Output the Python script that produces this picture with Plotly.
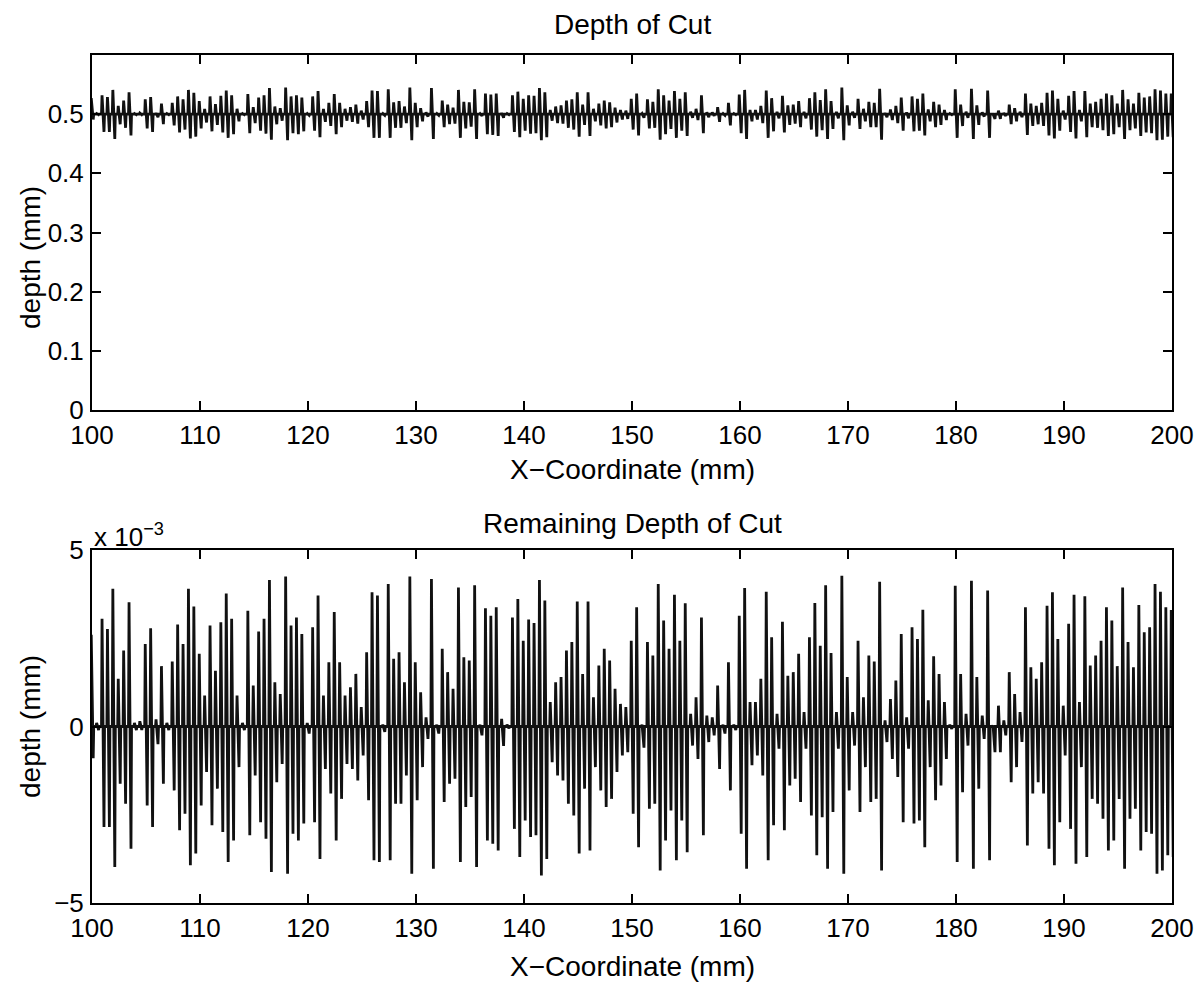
import plotly.graph_objects as go

# ---------------- data ----------------
# spikes occur every 0.5 mm starting at 99.93 mm; trough follows peak
SPIKE_START = 99.93
SPIKE_STEP = 0.5

# Remaining depth of cut, units of 1e-3 mm (peak / trough per spike)
rem_hi = [2.6, 0.1, 3.05, 2.76, 3.9, 1.35, 2.15, 3.52, 0.1, 0.15,
          2.34, 2.78, 0.2, 1.71, 0.1, 1.84, 2.89, 2.34, 3.9, 3.4,
          2.06, 0.88, 2.86, 1.58, 2.95, 3.77, 3.05, 0.88, 0.1, 3.28,
          1.16, 2.69, 3.05, 4.15, 1.25, 0.92, 4.25, 2.86, 3.09, 2.62,
          0.1, 2.81, 3.71, 0.88, 1.82, 3.24, 1.82, 0.88, 1.11, 1.49,
          0.55, 2.1, 3.8, 3.71, 0.05, 4.04, 1.92, 2.1, 1.25, 4.25,
          1.82, 0.97, 0.26, 4.18, 0.05, 2.2, 1.54, 1.07, 3.94, 1.96,
          1.87, 4.0, 0.05, 3.35, 3.14, 3.38, 0.22, 0.05, 3.09, 3.61,
          2.43, 3.03, 2.93, 4.15, 3.57, 0.69, 1.25, 1.4, 2.15, 2.39,
          3.54, 1.49, 3.54, 0.83, 1.73, 2.2, 1.87, 1.07, 0.64, 0.55,
          2.43, 3.38, 0.05, 2.39, 2.01, 4.04, 3.0, 2.2, 3.73, 2.43,
          3.49, 0.36, 0.83, 3.09, 0.31, 0.26, 1.16, 0.05, 1.82, 0.05,
          3.14, 3.92, 0.69, 0.69, 1.35, 3.82, 2.53, 0.36, 2.97, 1.44,
          1.54, 2.06, 0.41, 2.53, 3.5, 2.29, 4.0, 2.08, 0.41, 4.27,
          1.4, 0.41, 2.43, 0.83, 2.01, 1.84, 4.1, 0.17, 0.78, 1.3,
          2.62, 0.26, 2.81, 2.48, 3.31, 0.74, 1.99, 1.49, 0.69, 0.05,
          3.99, 1.49, 0.36, 4.13, 1.4, 0.31, 3.85, 0.03, 0.59, 0.17,
          1.54, 0.92, 0.41, 3.38, 1.68, 1.35, 1.82, 3.42, 3.8, 2.48,
          0.59, 2.91, 3.73, 0.69, 3.69, 1.73, 2.01, 2.43, 3.38, 3.0,
          1.71, 3.94, 2.39, 1.68, 3.44, 2.67, 2.81, 4.04, 3.82, 3.38,
          3.3]
rem_lo = [-0.9, -0.1, -2.85, -2.85, -3.98, -1.62, -2.19, -3.46, -0.1, -0.1,
          -2.24, -2.85, -0.5, -1.62, -0.1, -1.81, -2.94, -2.47, -3.93, -3.6,
          -2.24, -1.29, -2.8, -1.76, -2.99, -3.84, -3.23, -1.15, -0.1, -3.08,
          -1.39, -2.71, -3.18, -4.12, -1.58, -1.06, -4.17, -3.04, -3.23, -2.75,
          -0.2, -2.71, -3.75, -1.2, -1.9, -3.23, -2.05, -1.06, -1.2, -1.53,
          -0.82, -2.09, -3.79, -3.84, -0.15, -3.79, -2.19, -2.19, -1.39, -4.17,
          -2.09, -1.15, -0.35, -4.03, -0.2, -2.14, -1.62, -1.48, -3.84, -2.28,
          -2.0, -3.98, -0.25, -3.23, -3.32, -3.51, -0.55, -0.05, -2.9, -3.7,
          -2.66, -3.13, -3.08, -4.22, -3.75, -1.01, -1.39, -1.53, -2.19, -2.52,
          -3.6, -1.76, -3.51, -1.15, -1.81, -2.28, -2.05, -1.29, -0.82, -0.73,
          -2.47, -3.42, -0.6, -2.33, -2.19, -4.08, -3.23, -2.38, -3.79, -2.66,
          -3.56, -0.54, -0.92, -3.08, -0.44, -0.25, -1.2, -0.2, -1.81, -0.1,
          -3.04, -4.03, -1.1, -0.82, -1.39, -3.79, -2.8, -0.63, -2.94, -1.67,
          -1.48, -2.14, -0.63, -2.52, -3.65, -2.57, -4.03, -2.42, -0.63, -4.17,
          -1.81, -0.54, -2.42, -1.15, -2.14, -2.05, -4.08, -0.44, -0.92, -1.43,
          -2.71, -0.63, -2.75, -2.66, -3.42, -1.15, -2.09, -1.67, -0.92, -0.07,
          -3.84, -1.86, -0.54, -4.03, -1.76, -0.35, -3.79, -0.73, -0.73, -0.25,
          -1.58, -1.15, -0.44, -3.37, -1.9, -1.58, -1.9, -3.46, -3.93, -2.71,
          -0.82, -2.9, -3.89, -1.15, -3.7, -2.05, -2.19, -2.61, -3.51, -3.23,
          -2.05, -4.03, -2.61, -2.33, -3.51, -2.99, -3.04, -4.17, -4.08, -3.65,
          -3.7]

# Depth of cut (mm), peak / trough per spike around the nominal 0.5 mm
DEPTH_NOMINAL = 0.5
depth_hi = [0.527, 0.501, 0.532, 0.529, 0.541, 0.514, 0.523, 0.537, 0.501, 0.502,
            0.525, 0.529, 0.502, 0.518, 0.501, 0.519, 0.530, 0.525, 0.541, 0.536,
            0.522, 0.509, 0.530, 0.517, 0.531, 0.540, 0.532, 0.509, 0.501, 0.534,
            0.512, 0.528, 0.532, 0.544, 0.513, 0.510, 0.545, 0.530, 0.532, 0.528,
            0.501, 0.530, 0.539, 0.509, 0.519, 0.534, 0.519, 0.509, 0.512, 0.516,
            0.506, 0.522, 0.540, 0.539, 0.501, 0.542, 0.520, 0.522, 0.513, 0.545,
            0.519, 0.510, 0.503, 0.544, 0.501, 0.523, 0.516, 0.511, 0.541, 0.521,
            0.520, 0.542, 0.501, 0.535, 0.533, 0.535, 0.502, 0.501, 0.532, 0.538,
            0.526, 0.532, 0.531, 0.544, 0.537, 0.507, 0.513, 0.515, 0.523, 0.525,
            0.537, 0.516, 0.537, 0.509, 0.518, 0.523, 0.520, 0.511, 0.507, 0.506,
            0.526, 0.535, 0.501, 0.525, 0.521, 0.542, 0.532, 0.523, 0.539, 0.526,
            0.537, 0.504, 0.509, 0.532, 0.503, 0.503, 0.512, 0.501, 0.519, 0.501,
            0.533, 0.541, 0.507, 0.507, 0.514, 0.540, 0.527, 0.504, 0.531, 0.515,
            0.516, 0.522, 0.504, 0.527, 0.537, 0.524, 0.542, 0.522, 0.504, 0.545,
            0.515, 0.504, 0.526, 0.509, 0.521, 0.519, 0.543, 0.502, 0.508, 0.514,
            0.528, 0.503, 0.530, 0.526, 0.535, 0.508, 0.521, 0.516, 0.507, 0.501,
            0.542, 0.516, 0.504, 0.543, 0.515, 0.503, 0.540, 0.500, 0.506, 0.502,
            0.516, 0.510, 0.504, 0.535, 0.518, 0.514, 0.519, 0.536, 0.540, 0.526,
            0.506, 0.531, 0.539, 0.507, 0.539, 0.518, 0.521, 0.526, 0.535, 0.532,
            0.518, 0.541, 0.525, 0.518, 0.536, 0.528, 0.530, 0.542, 0.540, 0.535,
            0.535]
depth_lo = [0.491, 0.499, 0.470, 0.470, 0.458, 0.483, 0.477, 0.464, 0.499, 0.499,
            0.476, 0.470, 0.495, 0.483, 0.499, 0.481, 0.469, 0.474, 0.459, 0.462,
            0.476, 0.486, 0.471, 0.482, 0.469, 0.460, 0.466, 0.488, 0.499, 0.468,
            0.485, 0.472, 0.467, 0.457, 0.483, 0.489, 0.456, 0.468, 0.466, 0.471,
            0.498, 0.472, 0.461, 0.487, 0.480, 0.466, 0.478, 0.489, 0.487, 0.484,
            0.491, 0.478, 0.460, 0.460, 0.498, 0.460, 0.477, 0.477, 0.485, 0.456,
            0.478, 0.488, 0.496, 0.458, 0.498, 0.478, 0.483, 0.484, 0.460, 0.476,
            0.479, 0.458, 0.497, 0.466, 0.465, 0.463, 0.494, 0.499, 0.470, 0.461,
            0.472, 0.467, 0.468, 0.456, 0.461, 0.489, 0.485, 0.484, 0.477, 0.474,
            0.462, 0.482, 0.463, 0.488, 0.481, 0.476, 0.478, 0.486, 0.491, 0.492,
            0.474, 0.464, 0.494, 0.476, 0.477, 0.457, 0.466, 0.475, 0.460, 0.472,
            0.463, 0.494, 0.490, 0.468, 0.495, 0.497, 0.487, 0.498, 0.481, 0.499,
            0.468, 0.458, 0.488, 0.491, 0.485, 0.460, 0.471, 0.493, 0.469, 0.482,
            0.484, 0.478, 0.493, 0.474, 0.462, 0.473, 0.458, 0.475, 0.493, 0.456,
            0.481, 0.494, 0.475, 0.488, 0.478, 0.478, 0.457, 0.495, 0.490, 0.485,
            0.472, 0.493, 0.471, 0.472, 0.464, 0.488, 0.478, 0.482, 0.490, 0.499,
            0.460, 0.480, 0.494, 0.458, 0.482, 0.496, 0.460, 0.492, 0.492, 0.497,
            0.483, 0.488, 0.495, 0.465, 0.480, 0.483, 0.480, 0.464, 0.459, 0.472,
            0.491, 0.470, 0.459, 0.488, 0.461, 0.478, 0.477, 0.473, 0.463, 0.466,
            0.478, 0.458, 0.473, 0.476, 0.463, 0.469, 0.468, 0.456, 0.457, 0.462,
            0.461]

x_ticks = [100, 110, 120, 130, 140, 150, 160, 170, 180, 190, 200]
top_y_ticks = [0, 0.1, 0.2, 0.3, 0.4, 0.5]
bot_y_ticks = [-5, 0, 5]


def spikes(hi, lo, base):
    """each spike: rise from base to peak, drop to trough, return to base"""
    xs, ys = [], []
    for k, (h, l) in enumerate(zip(hi, lo)):
        x = SPIKE_START + SPIKE_STEP * k
        xs += [x - 0.05, x, x + 0.18, x + 0.23]
        ys += [base, h, l, base]
    return xs, ys


tx, ty = spikes(depth_hi, depth_lo, DEPTH_NOMINAL)
bx, by = spikes(rem_hi, rem_lo, 0.0)

fig = go.Figure()
fig.add_trace(go.Scatter(x=tx, y=ty, mode="lines", line=dict(color="#111111", width=2.8),
                         xaxis="x", yaxis="y", showlegend=False, hoverinfo="skip"))
fig.add_trace(go.Scatter(x=bx, y=by, mode="lines", line=dict(color="#111111", width=2.8),
                         xaxis="x2", yaxis="y2", showlegend=False, hoverinfo="skip"))

FONT = "Liberation Sans, Arial, sans-serif"
W, H = 1204, 983
ML, MR, MT, MB = 92, 32, 55, 80
PH = H - MT - MB


def py(p):  # pixel row -> paper y
    return (H - MB - p) / PH


def px(p):  # pixel column -> paper x
    return (p - ML) / (W - ML - MR)


axis_common = dict(showline=True, linecolor="black", linewidth=2, mirror="allticks",
                   ticks="inside", ticklen=9, tickwidth=1.5, tickcolor="black",
                   showgrid=False, zeroline=False, automargin=False,
                   tickfont=dict(family=FONT, size=26, color="black"))

lab = dict(family=FONT, size=28, color="black")

fig.update_layout(
    width=W, height=H, margin=dict(l=ML, r=MR, t=MT, b=MB, autoexpand=False),
    paper_bgcolor="white", plot_bgcolor="white",
    font=dict(family=FONT, color="black"),
    xaxis=dict(domain=[0, 1], anchor="y", range=[100, 200], tickvals=x_ticks,
               ticklabelstandoff=1, **axis_common),
    yaxis=dict(domain=[py(410), 1], anchor="x", range=[0, 0.6], tickvals=top_y_ticks,
               ticktext=["0", "0.1", "0.2", "0.3", "0.4", "0.5"], ticklabelstandoff=1,
               **axis_common),
    xaxis2=dict(domain=[0, 1], anchor="y2", range=[100, 200], tickvals=x_ticks,
                ticklabelstandoff=1, **axis_common),
    yaxis2=dict(domain=[0, py(550)], anchor="x2", range=[-5, 5], tickvals=bot_y_ticks,
                ticktext=["\u22125", "0", "5"], ticklabelstandoff=1, **axis_common),
    annotations=[
        dict(text="Depth of Cut", x=0.5, y=py(25), xref="paper", yref="paper",
             xanchor="center", yanchor="middle", showarrow=False, font=lab),
        dict(text="Remaining Depth of Cut", x=0.5, y=py(523), xref="paper", yref="paper",
             xanchor="center", yanchor="middle", showarrow=False, font=lab),
        dict(text="X\u2212Coordinate (mm)", x=0.5, y=py(469), xref="paper", yref="paper",
             xanchor="center", yanchor="middle", showarrow=False, font=lab),
        dict(text="X\u2212Coordinate (mm)", x=0.5, y=py(966), xref="paper", yref="paper",
             xanchor="center", yanchor="middle", showarrow=False, font=lab),
        dict(text="depth (mm)", x=px(30), y=py(258), xref="paper", yref="paper", textangle=-90,
             xanchor="center", yanchor="middle", showarrow=False, font=lab),
        dict(text="depth (mm)", x=px(30), y=py(727), xref="paper", yref="paper", textangle=-90,
             xanchor="center", yanchor="middle", showarrow=False, font=lab),
        dict(text="x 10<sup>\u22123</sup>", x=0, y=py(535), xref="paper", yref="paper",
             xanchor="left", yanchor="middle", showarrow=False,
             font=dict(family=FONT, size=26, color="black")),
    ],
)

fig.write_html("out.html")
